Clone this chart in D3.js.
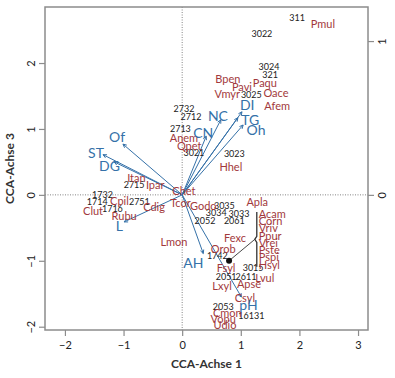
<!DOCTYPE html>
<html><head><meta charset="utf-8">
<script src="https://cdn.jsdelivr.net/npm/d3@7"></script>
<style>
html,body{margin:0;padding:0;background:#fff;}
text{font-family:Lato,"Open Sans",sans-serif;}
</style></head><body>
<svg id="c" width="395" height="378"></svg>
<script>
// ---- data (CCA axis 1 vs axis 3) ----
const xTicks = [-2, -1, 0, 1, 2, 3];
const yTicks = [-2, -1, 0, 1, 2];
const yRightTicks = [0, 1];

const speciesNames = ["Pmul","Bpen","Pavi","Paqu","Vmyr","Oace","Afem","Anem","Qpet","Hhel","Itan","Ipar","Chet","Tcor","Cpil","Clut","Cdig","Rubu","Lmon","Godo","Apla","Fexc","Orob","Fsyl","Lvul","Lxyl","Apse","Csyl","Cmon","Vopu","Udio"];
const speciesX = [2.40,0.78,1.02,1.41,0.77,1.60,1.62,0.03,0.12,0.83,-0.78,-0.46,0.03,-0.03,-1.07,-1.52,-0.48,-0.99,-0.14,0.36,1.28,0.90,0.70,0.75,1.41,0.68,1.14,1.07,0.77,0.70,0.73];
const speciesY = [2.59,1.76,1.64,1.70,1.53,1.55,1.35,0.86,0.74,0.42,0.26,0.14,0.05,-0.12,-0.09,-0.24,-0.18,-0.33,-0.71,-0.17,-0.11,-0.65,-0.82,-1.11,-1.26,-1.39,-1.36,-1.56,-1.80,-1.88,-1.98];

// species sharing one position, listed in a bracketed column
const groupNames = ["Acam","Corn","Vriv","Ppur","Vrei","Pste","Pspi","Hsyl"];
const groupPoint = [0.80, -1.00];
const groupColumn = [1.29, -0.29, -1.06]; // x, top y, bottom y of label column

const siteNames = ["311","3022","3024","321","3025","2732","2712","2713","3021","3023","2715","1732","1714","2751","1716","3035","3034","3033","2052","2061","1742","3015","2051","2611","2053","16131"];
const siteX = [1.96,1.36,1.48,1.50,1.18,0.03,0.15,-0.03,0.20,0.89,-0.82,-1.36,-1.45,-0.73,-1.19,0.72,0.58,0.97,0.39,0.89,0.60,1.21,0.75,1.09,0.70,1.18];
const siteY = [2.68,2.45,1.94,1.82,1.52,1.30,1.18,1.00,0.64,0.62,0.15,0.00,-0.11,-0.11,-0.21,-0.17,-0.27,-0.29,-0.39,-0.39,-0.92,-1.11,-1.24,-1.24,-1.70,-1.83];

const envNames = ["Of","ST","DG","L","NC","CN","DI","TG","Oh","AH","pH"];
const envX = [-1.01,-1.35,-1.16,-0.99,0.66,0.41,1.02,0.95,1.04,0.36,1.01];
const envY = [0.77,0.61,0.50,-0.41,1.14,0.89,1.26,1.17,1.06,-0.89,-1.55];
const envLabelX = [-1.11,-1.47,-1.24,-1.07,0.61,0.36,1.11,1.16,1.26,0.19,1.13];
const envLabelY = [0.88,0.64,0.44,-0.47,1.20,0.94,1.36,1.14,0.98,-1.03,-1.67];

// ---- drawing ----
const svg = d3.select("#c");
const L = 45, R = 368, T = 7, B = 330;
const x = d3.scaleLinear().domain([-2.34, 3.17]).range([L, R]);
const y = d3.scaleLinear().domain([-2.05, 2.85]).range([B, T]);
const yR = d3.scaleLinear().domain([-2.05 * 0.4286, 2.85 * 0.4286]).range([B, T]);

const red = "#a2393c", blue = "#3571a8", dark = "#222", grey = "#8c8c8c";

// dotted zero lines
svg.append("line").attr("x1", x(0)).attr("x2", x(0)).attr("y1", T).attr("y2", B)
  .attr("stroke", "#666").attr("stroke-width", 0.8).attr("stroke-dasharray", "1,1.5");
svg.append("line").attr("x1", L).attr("x2", R).attr("y1", y(0)).attr("y2", y(0))
  .attr("stroke", "#666").attr("stroke-width", 0.8).attr("stroke-dasharray", "1,1.5");

// axes
function styleAxis(g) {
  g.select(".domain").remove();
  g.selectAll(".tick line").attr("stroke", grey).attr("stroke-width", 1.2);
  g.selectAll(".tick text").attr("fill", dark).style("font-size", "11px").style("font-family", "Lato,sans-serif");
}
const fmt = d => d < 0 ? "\u2212" + Math.abs(d) : String(d);
svg.append("g").attr("transform", `translate(0,${B})`)
  .call(d3.axisBottom(x).tickValues(xTicks).tickSize(6).tickPadding(5).tickFormat(fmt)).call(styleAxis);
const gl = svg.append("g").attr("transform", `translate(${L},0)`)
  .call(d3.axisLeft(y).tickValues(yTicks).tickSize(6).tickPadding(3).tickFormat(fmt)).call(styleAxis);
gl.selectAll(".tick text").attr("transform", "rotate(-90)").attr("x", 0).attr("y", -10)
  .attr("text-anchor", "middle").attr("dy", "0");
const gr = svg.append("g").attr("transform", `translate(${R},0)`)
  .call(d3.axisRight(yR).tickValues(yRightTicks).tickSize(6).tickFormat(fmt)).call(styleAxis);
gr.selectAll(".tick text").attr("transform", "rotate(-90)").attr("x", 0).attr("y", 18)
  .attr("text-anchor", "middle").attr("dy", "0");

// frame
svg.append("rect").attr("x", L).attr("y", T).attr("width", R - L).attr("height", B - T)
  .attr("fill", "none").attr("stroke", grey).attr("stroke-width", 1.5);

// axis titles
svg.append("text").attr("x", (L + R) / 2).attr("y", 368).attr("text-anchor", "middle")
  .style("font-size", "12px").style("font-weight", "bold").attr("fill", "#333").text("CCA-Achse 1");
svg.append("text").attr("transform", `translate(14,${(T + B) / 2}) rotate(-90)`).attr("text-anchor", "middle")
  .style("font-size", "12px").style("font-weight", "bold").attr("fill", "#333").text("CCA-Achse 3");

// environmental arrows
const envIdx = d3.range(envNames.length);
const ag = svg.append("g");
envIdx.forEach(i => {
  const x0 = x(0), y0 = y(0), x1 = x(envX[i]), y1 = y(envY[i]);
  ag.append("line").attr("x1", x0).attr("y1", y0).attr("x2", x1).attr("y2", y1)
    .attr("stroke", blue).attr("stroke-width", 1);
  const a = Math.atan2(y1 - y0, x1 - x0), h = 4, s = 0.45;
  ag.append("path").attr("d",
    `M${x1 - h * Math.cos(a - s)},${y1 - h * Math.sin(a - s)}L${x1},${y1}L${x1 - h * Math.cos(a + s)},${y1 - h * Math.sin(a + s)}`)
    .attr("fill", "none").attr("stroke", blue).attr("stroke-width", 1);
});

// site labels
svg.append("g").selectAll("text").data(d3.range(siteNames.length)).join("text")
  .attr("x", i => x(siteX[i])).attr("y", i => y(siteY[i])).attr("dy", "0.35em")
  .attr("text-anchor", "middle").style("font-size", "9px").attr("fill", dark)
  .text(i => siteNames[i]);

// species labels
svg.append("g").selectAll("text").data(d3.range(speciesNames.length)).join("text")
  .attr("x", i => x(speciesX[i])).attr("y", i => y(speciesY[i])).attr("dy", "0.35em")
  .attr("text-anchor", "middle").style("font-size", "11px").attr("fill", red)
  .text(i => speciesNames[i]);

// grouped species column with bracket
const colX = x(groupColumn[0]);
const colY = d3.scaleLinear().domain([0, groupNames.length - 1]).range([y(groupColumn[1]), y(groupColumn[2])]);
svg.append("g").selectAll("text").data(groupNames).join("text")
  .attr("x", colX + 1).attr("y", (d, i) => colY(i)).attr("dy", "0.35em")
  .style("font-size", "11px").attr("fill", red).text(d => d);
const bTop = colY(0) - 2, bBot = colY(groupNames.length - 1) + 2, bMid = (bTop + bBot) / 2;
svg.append("path").attr("d", `M${colX - 1},${bTop}L${colX - 1},${bMid - 3}L${colX - 3},${bMid}L${colX - 1},${bMid + 3}L${colX - 1},${bBot}`)
  .attr("fill", "none").attr("stroke", "#333").attr("stroke-width", 1.3);
svg.append("line").attr("x1", x(groupPoint[0])).attr("y1", y(groupPoint[1])).attr("x2", colX - 3).attr("y2", bMid)
  .attr("stroke", "#333").attr("stroke-width", 0.9);
svg.append("circle").attr("cx", x(groupPoint[0])).attr("cy", y(groupPoint[1])).attr("r", 3).attr("fill", "#111");

// env labels
svg.append("g").selectAll("text").data(envIdx).join("text")
  .attr("x", i => x(envLabelX[i])).attr("y", i => y(envLabelY[i])).attr("dy", "0.35em")
  .attr("text-anchor", "middle").style("font-size", "14px").attr("fill", blue)
  .text(i => envNames[i]);
</script>
</body></html>
